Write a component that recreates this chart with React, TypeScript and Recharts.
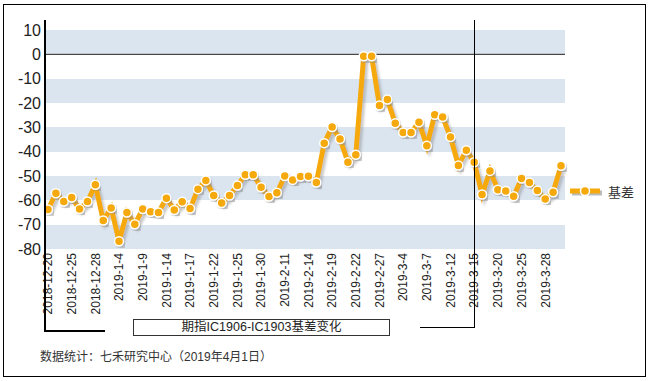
import { LineChart, Line, XAxis, YAxis, CartesianGrid, ReferenceLine } from "recharts";

const dates = [
  "2018-12-20", "2018-12-21", "2018-12-24", "2018-12-25", "2018-12-26", "2018-12-27", "2018-12-28",
  "2019-1-2", "2019-1-3", "2019-1-4", "2019-1-7", "2019-1-8", "2019-1-9", "2019-1-10", "2019-1-11",
  "2019-1-14", "2019-1-15", "2019-1-16", "2019-1-17", "2019-1-18", "2019-1-21", "2019-1-22",
  "2019-1-23", "2019-1-24", "2019-1-25", "2019-1-28", "2019-1-29", "2019-1-30", "2019-1-31",
  "2019-2-1", "2019-2-11", "2019-2-12", "2019-2-13", "2019-2-14", "2019-2-15", "2019-2-18",
  "2019-2-19", "2019-2-20", "2019-2-21", "2019-2-22", "2019-2-25", "2019-2-26", "2019-2-27",
  "2019-2-28", "2019-3-1", "2019-3-4", "2019-3-5", "2019-3-6", "2019-3-7", "2019-3-8",
  "2019-3-11", "2019-3-12", "2019-3-13", "2019-3-14", "2019-3-15", "2019-3-18", "2019-3-19",
  "2019-3-20", "2019-3-21", "2019-3-22", "2019-3-25", "2019-3-26", "2019-3-27", "2019-3-28",
  "2019-3-29", "2019-4-1",
];

// 基差 values
const basis = [
  -63.8, -57.1, -60.5, -58.8, -63.6, -60.5, -53.6, -68.3, -63.1, -76.8, -65.0, -69.8, -63.6,
  -64.7, -65.0, -59.1, -64.0, -60.6, -63.4, -55.4, -51.8, -58.0, -61.1, -58.0, -53.9, -49.5,
  -49.5, -54.6, -58.4, -56.9, -50.0, -51.6, -50.2, -50.1, -52.7, -36.5, -29.9, -34.8, -44.3,
  -41.3, -0.8, -0.8, -21.0, -18.6, -28.3, -32.1, -32.1, -27.9, -37.6, -24.8, -25.8, -34.0,
  -45.7, -39.4, -44.3, -57.6, -47.9, -55.6, -56.2, -58.3, -51.0, -52.7, -56.0, -59.5, -56.7,
  -45.8,
];

const yTicks = [10, 0, -10, -20, -30, -40, -50, -60, -70, -80];

const ORANGE = "#f5a90a";
const BAND = "#dbe5f0";
const FONT = "'Liberation Sans', Arial, 'Noto Sans CJK SC', sans-serif";

const data = dates.map((date, i) => ({ date, basis: basis[i] }));

function DateTick(props: any) {
  const { x, y, payload } = props;
  return (
    <text
      x={x}
      y={y}
      transform={`rotate(-90, ${x}, ${y})`}
      textAnchor="end"
      dy="0.36em"
      fontSize={12}
      fill="#222"
    >
      {payload.value}
    </text>
  );
}

const line = (style: React.CSSProperties) => (
  <div style={{ position: "absolute", background: "#000", ...style }} />
);

export default function App() {
  return (
    <div
      style={{
        position: "absolute",
        left: 0,
        top: 0,
        width: 654,
        height: 381,
        background: "#fff",
        fontFamily: FONT,
      }}
    >
      <svg width={0} height={0} style={{ position: "absolute" }}>
        <defs>
          <filter id="lineShadow" x="-5%" y="-5%" width="115%" height="120%">
            <feDropShadow dx="2.5" dy="3" stdDeviation="0.8" floodColor="#888" floodOpacity="0.45" />
          </filter>
        </defs>
      </svg>

      <LineChart
        width={654}
        height={381}
        data={data}
        margin={{ top: 30, right: 89, bottom: 0, left: 0 }}
        style={{ fontFamily: FONT }}
      >
        <CartesianGrid
          vertical={false}
          stroke="none"
          horizontalFill={[BAND, "transparent"]}
          fillOpacity={1}
        />
        <ReferenceLine y={0} stroke="#222" strokeWidth={1} />
        <XAxis
          dataKey="date"
          interval={2}
          height={132}
          padding={{ left: 3, right: 4 }}
          axisLine={false}
          tickLine={false}
          tickSize={0}
          tickMargin={4}
          tick={<DateTick />}
        />
        <YAxis
          width={45}
          domain={[-80, 10]}
          ticks={yTicks}
          axisLine={false}
          tickLine={false}
          tickSize={4}
          tickMargin={0}
          tick={{ fontSize: 16, fill: "#222" }}
        />
        <Line
          dataKey="basis"
          name="基差"
          stroke={ORANGE}
          strokeWidth={5}
          filter="url(#lineShadow)"
          dot={{ r: 4.5, fill: ORANGE, stroke: "#fff", strokeWidth: 1.5 }}
          isAnimationActive={false}
        />
      </LineChart>

      {/* outer frame */}
      <div
        style={{
          position: "absolute",
          left: 3,
          top: 4,
          width: 641,
          height: 371,
          border: "1.5px solid #000",
          pointerEvents: "none",
        }}
      />

      {/* left bracket along the value axis */}
      {line({ left: 44, top: 20, width: 2, height: 312 })}
      {line({ left: 44, top: 330, width: 61, height: 2 })}

      {/* right bracket at 2019-3-15 */}
      {line({ left: 473.5, top: 20, width: 1.5, height: 308 })}
      {line({ left: 420, top: 326.5, width: 55, height: 1.5 })}

      {/* legend */}
      <div
        style={{
          position: "absolute",
          left: 569,
          top: 182,
          display: "flex",
          alignItems: "center",
          fontSize: 13,
          color: "#333",
        }}
      >
        <svg width={34} height={14}>
          <line x1={3} y1={8} x2={33} y2={8} stroke="#bbb" strokeWidth={5} />
          <line x1={1} y1={6} x2={31} y2={6} stroke={ORANGE} strokeWidth={5} />
          <circle cx={16} cy={6} r={4.5} fill={ORANGE} stroke="#fff" strokeWidth={1.5} />
        </svg>
        <span style={{ marginLeft: 5 }}>基差</span>
      </div>

      {/* title box */}
      <div
        style={{
          position: "absolute",
          left: 133,
          top: 319,
          width: 255,
          height: 15,
          border: "1px solid #333",
          fontSize: 12.5,
          lineHeight: "15px",
          textAlign: "center",
          color: "#222",
        }}
      >
        期指IC1906-IC1903基差变化
      </div>

      {/* source note */}
      <div
        style={{
          position: "absolute",
          left: 40,
          top: 349,
          fontSize: 12,
          lineHeight: "16px",
          color: "#333",
        }}
      >
        数据统计：七禾研究中心（2019年4月1日）
      </div>
    </div>
  );
}
